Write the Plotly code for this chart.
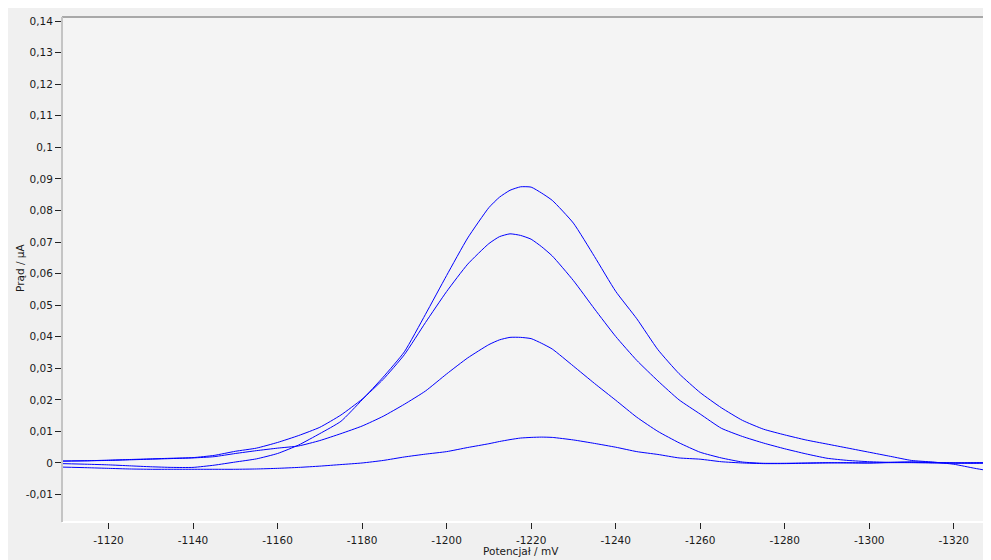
import plotly.graph_objects as go

# Potential (mV) sampling grid
potential_mV = [-1109, -1115, -1120, -1125, -1130, -1135, -1140, -1145, -1150, -1155,
                -1160, -1165, -1170, -1175, -1180, -1185, -1190, -1195, -1200, -1205,
                -1210, -1212.5, -1215, -1217.5, -1220, -1222.5, -1225, -1230, -1235, -1240,
                -1245, -1250, -1255, -1260, -1265, -1270, -1275, -1280, -1285, -1290,
                -1295, -1300, -1305, -1310, -1315, -1320, -1325, -1328]

# Current (uA) of the four voltammograms
current_a = [-0.0002, -0.0004, -0.0006, -0.0009, -0.0012, -0.0014, -0.0014, -0.0007, 0.0003, 0.0013,
             0.0030, 0.0057, 0.0093, 0.0132, 0.0200, 0.0272, 0.0352, 0.0471, 0.0594, 0.0713,
             0.0809, 0.0842, 0.0864, 0.0875, 0.0874, 0.0855, 0.0832, 0.0760, 0.0654, 0.0544,
             0.0457, 0.0359, 0.0283, 0.0223, 0.0175, 0.0135, 0.0107, 0.0089, 0.0073, 0.0060,
             0.0047, 0.0034, 0.0021, 0.0008, 0.0003, -0.0004, -0.0017, -0.0024]

current_b = [0.0006, 0.0007, 0.0009, 0.0011, 0.0013, 0.0015, 0.0017, 0.0024, 0.0037, 0.0047,
             0.0065, 0.0087, 0.0113, 0.0152, 0.0202, 0.0265, 0.0343, 0.0445, 0.0543, 0.0630,
             0.0695, 0.0717, 0.0726, 0.0721, 0.0709, 0.0685, 0.0656, 0.0578, 0.0488, 0.0401,
             0.0325, 0.0260, 0.0200, 0.0155, 0.0110, 0.0084, 0.0063, 0.0045, 0.0029, 0.0015,
             0.0008, 0.0004, 0.0002, 0.0003, 0.0002, 0.0000, 0.0001, 0.0001]

current_c = [0.0006, 0.0007, 0.0008, 0.0010, 0.0012, 0.0014, 0.0016, 0.0020, 0.0030, 0.0039,
             0.0047, 0.0054, 0.0071, 0.0093, 0.0117, 0.0148, 0.0186, 0.0228, 0.0282, 0.0333,
             0.0375, 0.0390, 0.0398, 0.0398, 0.0394, 0.0379, 0.0361, 0.0307, 0.0252, 0.0199,
             0.0145, 0.0100, 0.0064, 0.0034, 0.0016, 0.0003, -0.0001, -0.0001, 0.0000, 0.0001,
             0.0000, 0.0000, 0.0001, 0.0001, 0.0000, 0.0000, 0.0000, 0.0000]

current_d = [-0.0013, -0.0015, -0.0017, -0.0019, -0.0020, -0.0020, -0.0020, -0.0020, -0.0020, -0.0019,
             -0.0017, -0.0014, -0.0010, -0.0005, 0.0000, 0.0008, 0.0019, 0.0028, 0.0036, 0.0049,
             0.0061, 0.0068, 0.0074, 0.0079, 0.0081, 0.0082, 0.0081, 0.0073, 0.0062, 0.0050,
             0.0036, 0.0027, 0.0016, 0.0012, 0.0004, 0.0000, -0.0002, -0.0002, -0.0001, 0.0000,
             0.0001, 0.0000, 0.0002, 0.0003, 0.0001, 0.0000, -0.0001, 0.0000]

x_tick_vals = [-1120, -1140, -1160, -1180, -1200, -1220, -1240, -1260, -1280, -1300, -1320]
x_tick_text = ["-1120", "-1140", "-1160", "-1180", "-1200", "-1220", "-1240", "-1260",
               "-1280", "-1300", "-1320"]
y_tick_vals = [-0.01, 0, 0.01, 0.02, 0.03, 0.04, 0.05, 0.06, 0.07, 0.08, 0.09, 0.10,
               0.11, 0.12, 0.13, 0.14]
y_tick_text = ["-0,01", "0", "0,01", "0,02", "0,03", "0,04", "0,05", "0,06", "0,07",
               "0,08", "0,09", "0,1", "0,11", "0,12", "0,13", "0,14"]

fig = go.Figure()
for ys in (current_d, current_c, current_b, current_a):
    fig.add_trace(go.Scatter(x=potential_mV, y=ys, mode="lines",
                             line=dict(color="#0000ff", width=1, shape="spline", smoothing=0.5),
                             showlegend=False, hoverinfo="skip"))

font_family = "DejaVu Sans"
OFF = 8  # page body margin offset
W, H = 991 - OFF, 560 - OFF
ML, MR, MT, MB = 62 - OFF, 3, 17 - OFF, 38
pw, ph = W - ML - MR, H - MT - MB


def px2paper_x(px):
    return (px - OFF - ML) / pw


def px2paper_y(py):
    return (H - MB - (py - OFF)) / ph


shapes = [
    # sunken plot frame
    dict(type="line", xref="paper", yref="paper", x0=0, x1=1, y0=0, y1=0,
         line=dict(color="#ffffff", width=2)),
    dict(type="line", xref="paper", yref="paper", x0=1, x1=1, y0=0, y1=1,
         line=dict(color="#ffffff", width=2)),
    dict(type="line", xref="paper", yref="paper", x0=0, x1=1, y0=1, y1=1,
         line=dict(color="#a8a8a8", width=2)),
    dict(type="line", xref="paper", yref="paper", x0=0, x1=0, y0=0, y1=1,
         line=dict(color="#c4c4c4", width=2)),
]

fs = 10.5
fig.update_layout(
    width=W, height=H,
    margin=dict(l=ML, r=MR, t=MT, b=MB, pad=0),
    paper_bgcolor="#f0f0f0",
    plot_bgcolor="#f4f4f4",
    font=dict(family=font_family, size=fs, color="#1a1a1a"),
    shapes=shapes,
    xaxis=dict(range=[-1109.0, -1328.1], showgrid=False, zeroline=False, showline=False,
               tickmode="array", tickvals=x_tick_vals, ticktext=x_tick_text,
               ticks="outside", ticklen=6, tickwidth=1, tickcolor="#222222",
               ticklabelstandoff=2,
               tickfont=dict(family=font_family, size=fs, color="#1a1a1a")),
    yaxis=dict(range=[-0.0187, 0.1413], showgrid=False, zeroline=False, showline=False,
               tickmode="array", tickvals=y_tick_vals, ticktext=y_tick_text,
               ticks="outside", ticklen=6, tickwidth=1, tickcolor="#222222",
               tickfont=dict(family=font_family, size=fs, color="#1a1a1a")),
    annotations=[
        dict(text="Potencjał / mV", xref="paper", yref="paper",
             x=px2paper_x(521), y=px2paper_y(551), xanchor="center", yanchor="middle",
             showarrow=False, font=dict(family=font_family, size=fs, color="#1a1a1a")),
        dict(text="Prąd / µA", xref="paper", yref="paper", textangle=-90,
             x=px2paper_x(20), y=px2paper_y(268), xanchor="center", yanchor="middle",
             showarrow=False, font=dict(family=font_family, size=fs, color="#1a1a1a")),
    ],
)

fig.write_html("out.html")
